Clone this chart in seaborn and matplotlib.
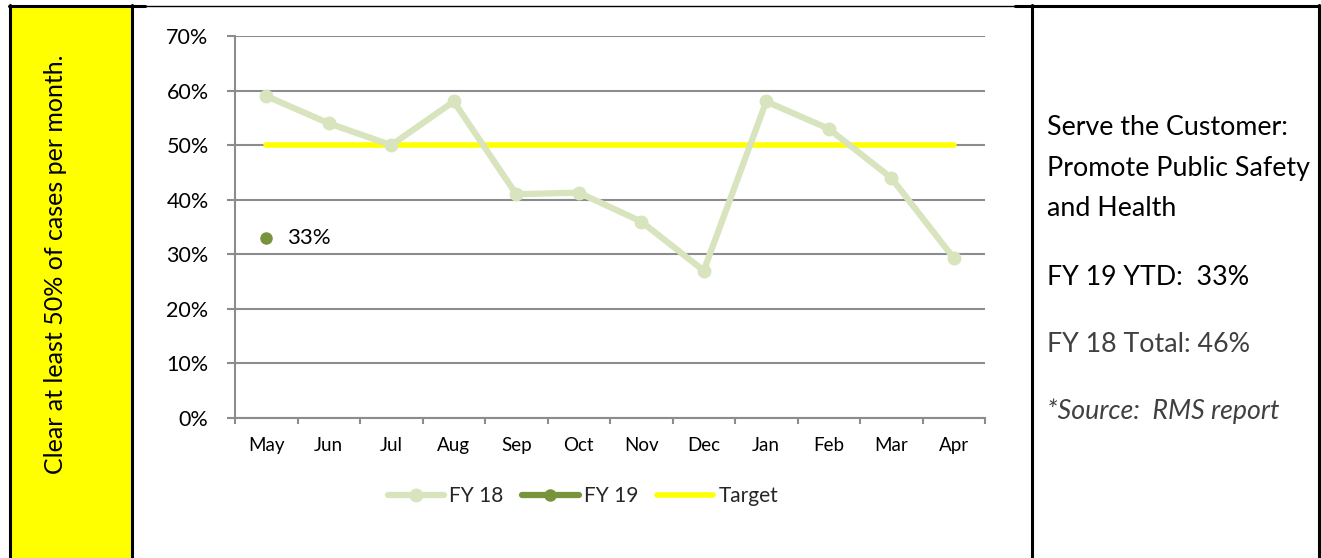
import pandas as pd
import numpy as np
import matplotlib
matplotlib.use("Agg")
from matplotlib import pyplot as plt
from matplotlib.lines import Line2D
from matplotlib.patches import Rectangle
import seaborn as sns

# ---------------- data ----------------
months = ['May', 'Jun', 'Jul', 'Aug', 'Sep', 'Oct', 'Nov', 'Dec', 'Jan', 'Feb', 'Mar', 'Apr']
fy18 = [59, 54, 50, 58, 41, 41.3, 36, 27, 58, 53, 44, 29.3]
fy19_months = ['May']
fy19 = [33]
target = [50] * 12
y_ticks = [0, 10, 20, 30, 40, 50, 60, 70]

side_title = 'Clear at least 50% of cases per month.'
info_title = ['Serve the Customer:', 'Promote Public Safety', 'and Health']
info_ytd = 'FY 19 YTD:  33%'
info_total = 'FY 18 Total: 46%'
info_source = '*Source:  RMS report'

# ---------------- style ----------------
sns.set_style('white')
plt.rcParams['font.family'] = ['Lato', 'DejaVu Sans']

c18 = '#d7e4bd'
c19 = '#77933c'
c_target = '#ffff00'
c_grid = '#8c8c8c'

W, H = 1321, 558
fig = plt.figure(figsize=(W / 100, H / 100), dpi=100)

def fx(px):
    return px / W

def fy(py):
    return 1 - py / H

ax = fig.add_axes([fx(235), fy(418), fx(985) - fx(235), fy(36) - fy(418)])

df18 = pd.DataFrame({'month': months, 'value': fy18})
df19 = pd.DataFrame({'month': fy19_months, 'value': fy19})
dft = pd.DataFrame({'month': months, 'value': target})

sns.lineplot(data=df18, x='month', y='value', ax=ax, color=c18, lw=4.5,
             marker='o', markersize=10, markeredgewidth=0, sort=False,
             solid_capstyle='round', label='FY 18', zorder=3)
sns.lineplot(data=df19, x='month', y='value', ax=ax, color=c19, lw=4.5,
             marker='o', markersize=9, markeredgewidth=0, sort=False,
             label='FY 19', zorder=4)
sns.lineplot(data=dft, x='month', y='value', ax=ax, color=c_target, lw=4,
             sort=False, solid_capstyle='round', label='Target', zorder=2)

# data label for FY 19
for m, v in zip(fy19_months, fy19):
    ax.annotate(f'{v}%', (months.index(m), v), xytext=(15, 0),
                textcoords='offset points', va='center', ha='left',
                fontsize=16, color='#000000')

ax.set_xlim(-0.5, len(months) - 0.5)
ax.set_ylim(0, 70)
ax.set_yticks(y_ticks)
ax.set_yticklabels([f'{t}%' for t in y_ticks])
ax.set_xticks(range(len(months)))
ax.set_xticklabels(months)
ax.set_xticks(np.arange(-0.5, len(months)), minor=True)
ax.set_xlabel('')
ax.set_ylabel('')

ax.grid(axis='y', color=c_grid, lw=1.5)
ax.set_axisbelow(True)
for s in ['top', 'right']:
    ax.spines[s].set_visible(False)
for s in ['left', 'bottom']:
    ax.spines[s].set_color(c_grid)
    ax.spines[s].set_linewidth(1.5)

ax.tick_params(axis='y', which='major', length=6, width=1.5, color=c_grid,
               direction='out', left=True, pad=13, labelsize=15.5, labelcolor='#000000')
ax.tick_params(axis='x', which='major', length=0, pad=14, labelsize=13.5,
               labelcolor='#000000')
ax.tick_params(axis='x', which='minor', length=4, width=1.5, color=c_grid,
               direction='out', bottom=True)

ax.get_legend().remove()
handles = [
    Line2D([], [], color=c18, lw=4.5, marker='o', markersize=10, markeredgewidth=0,
           solid_capstyle='round'),
    Line2D([], [], color=c19, lw=4.5, marker='o', markersize=9, markeredgewidth=0,
           solid_capstyle='round'),
    Line2D([], [], color=c_target, lw=4, solid_capstyle='round'),
]
fig.legend(handles, ['FY 18', 'FY 19', 'Target'], loc='center',
           bbox_to_anchor=(fx(583), fy(496)), ncol=3, frameon=False,
           fontsize=15, handlelength=2.7, handletextpad=0.25, columnspacing=0.9)

# ---------------- side panels ----------------
fig.add_artist(Rectangle((fx(11), 0), fx(131) - fx(11), fy(6), color=c_target,
                         transform=fig.transFigure, zorder=0))
border = dict(color='black', transform=fig.transFigure)
fig.add_artist(Line2D([fx(10), fx(10)], [0, fy(5)], lw=2.2, **border))
fig.add_artist(Line2D([fx(132), fx(132)], [0, fy(5)], lw=2.2, **border))
fig.add_artist(Line2D([fx(9), fx(145)], [fy(5.5), fy(5.5)], lw=2.2, **border))
fig.add_artist(Line2D([fx(145), fx(1015)], [fy(5.5), fy(5.5)], lw=1.0, **border))
fig.add_artist(Line2D([fx(1015), fx(1321)], [fy(5.5), fy(5.5)], lw=2.2, **border))
fig.add_artist(Line2D([fx(1032), fx(1032)], [0, fy(5)], lw=2.2, **border))
fig.add_artist(Line2D([fx(1319), fx(1319)], [0, fy(5)], lw=2.2, **border))

fig.text(fx(56), fy(264), side_title, rotation=90, ha='center', va='center',
         fontsize=18, color='#000000')

for i, line in enumerate(info_title):
    fig.text(fx(1047), fy(128 + 40.5 * i), line, ha='left', va='center',
             fontsize=19.3, color='#000000')
fig.text(fx(1047), fy(278), info_ytd, ha='left', va='center', fontsize=19.3,
         color='#000000')
fig.text(fx(1047), fy(345), info_total, ha='left', va='center', fontsize=19.3,
         color='#404040')
fig.text(fx(1047), fy(411), info_source, ha='left', va='center', fontsize=19.3,
         color='#404040', style='italic')

fig.savefig('out.png', dpi=100)
